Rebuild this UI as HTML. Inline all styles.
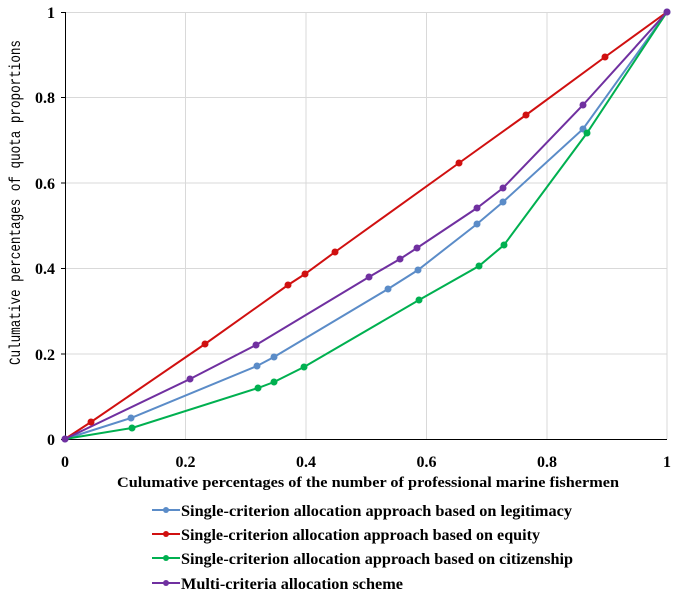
<!DOCTYPE html>
<html><head><meta charset="utf-8"><style>html,body{margin:0;padding:0;background:#fff}</style></head>
<body>
<svg width="680" height="598" xmlns="http://www.w3.org/2000/svg" style="display:block">
<g stroke="#d9d9d9" stroke-width="1">
<line x1="185.5" y1="12" x2="185.5" y2="439"/><line x1="306" y1="12" x2="306" y2="439"/><line x1="426.5" y1="12" x2="426.5" y2="439"/><line x1="547" y1="12" x2="547" y2="439"/><line x1="667" y1="12" x2="667" y2="439"/>
<line x1="65" y1="12.5" x2="667" y2="12.5"/><line x1="65" y1="97.5" x2="667" y2="97.5"/><line x1="65" y1="183" x2="667" y2="183"/><line x1="65" y1="268.5" x2="667" y2="268.5"/><line x1="65" y1="354" x2="667" y2="354"/>
</g>
<g stroke="#000" stroke-width="1">
<line x1="65.5" y1="12" x2="65.5" y2="439"/><line x1="65" y1="439.5" x2="667" y2="439.5"/>
<line x1="61" y1="12.5" x2="65" y2="12.5"/><line x1="61" y1="97.5" x2="65" y2="97.5"/><line x1="61" y1="183" x2="65" y2="183"/><line x1="61" y1="268.5" x2="65" y2="268.5"/><line x1="61" y1="354" x2="65" y2="354"/><line x1="61" y1="439.5" x2="65" y2="439.5"/>
</g>
<g font-family="Liberation Serif, serif" font-weight="bold" font-size="16" fill="#000">
<g text-anchor="end"><text x="55" y="18">1</text><text x="55" y="103">0.8</text><text x="55" y="189">0.6</text><text x="55" y="274">0.4</text><text x="55" y="360">0.2</text><text x="55" y="445">0</text></g>
<g text-anchor="middle"><text x="65" y="467">0</text><text x="185.5" y="467">0.2</text><text x="306" y="467">0.4</text><text x="426.5" y="467">0.6</text><text x="547" y="467">0.8</text><text x="667" y="467">1</text></g>
</g>
<g font-family="Liberation Serif, serif" font-weight="bold" font-size="15" fill="#000">
<text x="117" y="487" textLength="502" lengthAdjust="spacingAndGlyphs">Culumative  percentages of the number of professional marine fishermen</text>
</g>
<text transform="translate(20,365) rotate(-90)" font-family="Liberation Mono, monospace" font-size="16" textLength="325" lengthAdjust="spacingAndGlyphs">Culumative percentages of quota proportions</text>
<g fill="none" stroke-width="2">
<polyline stroke="#5b8cc8" points="65,439 131,418 257,366 274,357 388,289 418,270 477,224 503,202 583,129 667,12"/>
<polyline stroke="#d01010" points="65,439 91,422 205,344 288,285 305,274 335,252 459,163 526,115 605,57 667,12"/>
<polyline stroke="#00b050" points="65,439 132,428 258,388 274,382 304,367 419,300 479,266 504,245 587,133 667,12"/>
<polyline stroke="#7030a0" points="65,439 190,379 256,345 369,277 400,259 417,248 477,208 503,188 583,105 667,12"/>
</g>
<g fill="#5b8cc8"><circle cx="65" cy="439" r="3.5"/><circle cx="131" cy="418" r="3.5"/><circle cx="257" cy="366" r="3.5"/><circle cx="274" cy="357" r="3.5"/><circle cx="388" cy="289" r="3.5"/><circle cx="418" cy="270" r="3.5"/><circle cx="477" cy="224" r="3.5"/><circle cx="503" cy="202" r="3.5"/><circle cx="583" cy="129" r="3.5"/><circle cx="667" cy="12" r="3.5"/></g>
<g fill="#d01010"><circle cx="91" cy="422" r="3.5"/><circle cx="205" cy="344" r="3.5"/><circle cx="288" cy="285" r="3.5"/><circle cx="305" cy="274" r="3.5"/><circle cx="335" cy="252" r="3.5"/><circle cx="459" cy="163" r="3.5"/><circle cx="526" cy="115" r="3.5"/><circle cx="605" cy="57" r="3.5"/></g>
<g fill="#00b050"><circle cx="132" cy="428" r="3.5"/><circle cx="258" cy="388" r="3.5"/><circle cx="274" cy="382" r="3.5"/><circle cx="304" cy="367" r="3.5"/><circle cx="419" cy="300" r="3.5"/><circle cx="479" cy="266" r="3.5"/><circle cx="504" cy="245" r="3.5"/><circle cx="587" cy="133" r="3.5"/></g>
<g fill="#7030a0"><circle cx="65" cy="439" r="3.5"/><circle cx="190" cy="379" r="3.5"/><circle cx="256" cy="345" r="3.5"/><circle cx="369" cy="277" r="3.5"/><circle cx="400" cy="259" r="3.5"/><circle cx="417" cy="248" r="3.5"/><circle cx="477" cy="208" r="3.5"/><circle cx="503" cy="188" r="3.5"/><circle cx="583" cy="105" r="3.5"/><circle cx="667" cy="12" r="3.5"/></g>
<g stroke-width="2">
<line x1="152" y1="510" x2="180" y2="510" stroke="#5b8cc8"/><circle cx="166" cy="510" r="3" fill="#5b8cc8"/>
<line x1="152" y1="534" x2="180" y2="534" stroke="#d01010"/><circle cx="166" cy="534" r="3" fill="#d01010"/>
<line x1="152" y1="558" x2="180" y2="558" stroke="#00b050"/><circle cx="166" cy="558" r="3" fill="#00b050"/>
<line x1="152" y1="583" x2="180" y2="583" stroke="#7030a0"/><circle cx="166" cy="583" r="3" fill="#7030a0"/>
</g>
<g font-family="Liberation Serif, serif" font-weight="bold" font-size="16" fill="#000">
<text x="181" y="516" textLength="391" lengthAdjust="spacingAndGlyphs">Single-criterion allocation approach based on legitimacy</text>
<text x="181" y="540" textLength="359" lengthAdjust="spacingAndGlyphs">Single-criterion allocation approach based on equity</text>
<text x="181" y="564" textLength="392" lengthAdjust="spacingAndGlyphs">Single-criterion allocation approach based on citizenship</text>
<text x="181" y="589" textLength="222" lengthAdjust="spacingAndGlyphs">Multi-criteria allocation scheme</text>
</g>
</svg>
</body></html>
